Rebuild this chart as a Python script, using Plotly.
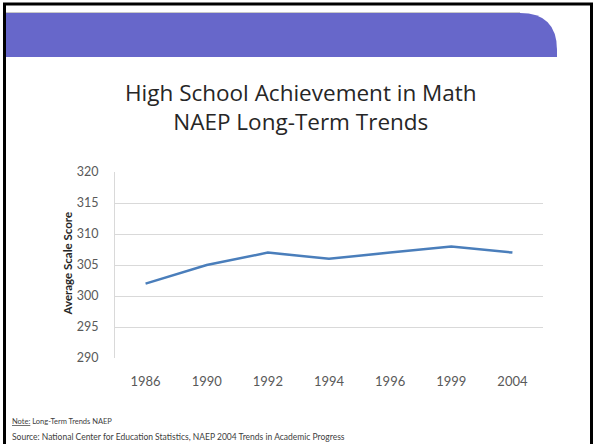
import plotly.graph_objects as go

years = ["1986", "1990", "1992", "1994", "1996", "1999", "2004"]
scores = [302, 305, 307, 306, 307, 308, 307]
y_ticks = [290, 295, 300, 305, 310, 315, 320]

W, H = 595, 444
def px(x): return x / W
def py(y): return 1 - y / H

FONT = "Lato"

fig = go.Figure()
fig.add_trace(go.Scatter(x=years, y=scores, mode="lines",
                         line=dict(color="#4A7EBB", width=2.5), hoverinfo="x+y"))

# header band with rounded top-right corner
x0, x1, y0, y1, r = 6, 557, 13, 57, 37
path = (f"M {px(x0)},{py(y0)} L {px(x1 - r)},{py(y0)} "
        f"Q {px(x1)},{py(y0)} {px(x1)},{py(y0 + r)} "
        f"L {px(x1)},{py(y1)} L {px(x0)},{py(y1)} Z")
shapes = [
    dict(type="path", path=path, xref="paper", yref="paper",
         fillcolor="#6767CA", line=dict(width=0), layer="below"),
    dict(type="line", xref="paper", yref="paper", x0=px(6), x1=px(520), y0=py(12.5), y1=py(12.5),
         line=dict(color="#C8C8C8", width=1)),
    # slide frame
    dict(type="line", xref="paper", yref="paper", x0=px(4.5), x1=px(4.5), y0=py(3), y1=py(446),
         line=dict(color="black", width=3)),
    dict(type="line", xref="paper", yref="paper", x0=px(3), x1=px(593), y0=py(4), y1=py(4),
         line=dict(color="black", width=3)),
    dict(type="line", xref="paper", yref="paper", x0=px(591.5), x1=px(591.5), y0=py(3), y1=py(446),
         line=dict(color="black", width=3)),
]

annotations = [
    dict(text="High School Achievement in Math<br>NAEP Long-Term Trends", x=px(301), y=py(107),
         xref="paper", yref="paper", showarrow=False, xanchor="center", yanchor="middle",
         font=dict(family="Open Sans", size=22.5, color="#262626")),
    dict(text="<b>Average Scale Score</b>", x=px(66.5), y=py(264), xref="paper", yref="paper",
         showarrow=False, textangle=-90, xanchor="center", yanchor="middle",
         font=dict(family=FONT, size=11.5, color="#262626")),
    dict(text="<u>Note:</u> Long-Term Trends NAEP", x=px(10), y=py(421), xref="paper", yref="paper",
         showarrow=False, xanchor="left", yanchor="middle",
         font=dict(family=FONT, size=7.5, color="#404040")),
    dict(text="Source: National Center for Education Statistics, NAEP 2004 Trends in Academic Progress",
         x=px(10), y=py(437), xref="paper", yref="paper",
         showarrow=False, xanchor="left", yanchor="middle",
         font=dict(family=FONT, size=8.5, color="#404040")),
]

fig.update_layout(
    width=W, height=H, margin=dict(l=0, r=0, t=0, b=0, autoexpand=False),
    paper_bgcolor="white", plot_bgcolor="white", showlegend=False,
    shapes=shapes, annotations=annotations,
    xaxis=dict(domain=[px(115), px(543)], type="category", range=[-0.5, 6.5],
               showgrid=False, automargin=False,
               showline=False, ticks="", tickfont=dict(family=FONT, size=13, color="#595959"),
               ticklabelstandoff=14),
    yaxis=dict(domain=[py(358), py(172)], range=[290, 320], tickvals=y_ticks, automargin=False,
               showgrid=True, gridcolor="#D9D9D9", gridwidth=1,
               showline=True, linecolor="#D9D9D9", linewidth=1, zeroline=False,
               ticks="", tickfont=dict(family=FONT, size=12.5, color="#595959"),
               ticklabelstandoff=13),
)

fig.write_html("out.html", config={"displayModeBar": False},
               post_script="document.body.style.margin='0';document.body.style.overflow='hidden';")
